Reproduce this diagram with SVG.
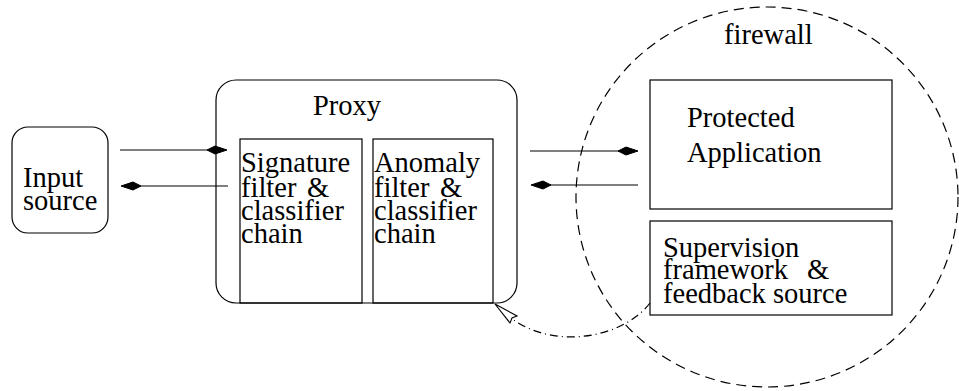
<svg xmlns="http://www.w3.org/2000/svg" width="959" height="391" viewBox="0 0 959 391">
  <style>
    .box { fill: none; stroke: #000; stroke-width: 1.2; }
    .lbl { font-family: 'Liberation Serif', 'DejaVu Serif', serif; font-size: 28.5px; fill: #000; }
    .flow { fill: none; stroke: #000; stroke-width: 1.2; }
    .head { fill: #000; stroke: #000; stroke-width: 1; }
  </style>
  <rect width="959" height="391" fill="#fff"/>

  <!-- firewall boundary -->
  <g id="firewall">
    <ellipse cx="767" cy="197" rx="191" ry="190" fill="none" stroke="#000" stroke-width="1.2" stroke-dasharray="10 6"/>
    <text class="lbl" x="724" y="44">firewall</text>
  </g>

  <g id="input-source">
    <rect class="box" x="12" y="127" width="96" height="106" rx="16" ry="16"/>
    <text class="lbl"><tspan x="23" y="187">Input</tspan><tspan x="23" y="210">source</tspan></text>
  </g>

  <g id="proxy">
    <rect class="box" x="216" y="80" width="301" height="223" rx="20" ry="20"/>
    <text class="lbl" x="313" y="115">Proxy</text>
  </g>

  <g id="signature-chain">
    <rect class="box" x="240" y="139" width="122" height="164"/>
    <text class="lbl"><tspan x="241" y="172">Signature</tspan><tspan x="241" y="197">filter</tspan><tspan x="307" y="197">&amp;</tspan><tspan x="241" y="220">classifier</tspan><tspan x="241" y="243">chain</tspan></text>
  </g>

  <g id="anomaly-chain">
    <rect class="box" x="373" y="139" width="120" height="164"/>
    <text class="lbl"><tspan x="374" y="172">Anomaly</tspan><tspan x="374" y="197">filter</tspan><tspan x="440" y="197">&amp;</tspan><tspan x="374" y="220">classifier</tspan><tspan x="374" y="243">chain</tspan></text>
  </g>

  <g id="protected-application">
    <rect class="box" x="650" y="80" width="242" height="129"/>
    <text class="lbl"><tspan x="687" y="127">Protected</tspan><tspan x="687" y="162">Application</tspan></text>
  </g>

  <g id="supervision">
    <rect class="box" x="650" y="221" width="242" height="94"/>
    <text class="lbl"><tspan x="663" y="257">Supervision</tspan><tspan x="663" y="279">framework</tspan><tspan x="807" y="279">&amp;</tspan><tspan x="663" y="303">feedback source</tspan></text>
  </g>

  <g id="connectors">
    <!-- input source -> proxy -->
    <line class="flow" x1="120" y1="150" x2="215" y2="150"/>
    <polygon class="head" points="227,150 215,146 207,150 215,154"/>
    <!-- proxy -> input source -->
    <line class="flow" x1="132" y1="186" x2="228" y2="186"/>
    <polygon class="head" points="121,186 133,182 141,186 133,190"/>
    <!-- proxy -> protected application -->
    <line class="flow" x1="530" y1="151" x2="626" y2="151"/>
    <polygon class="head" points="638,151 626,147 618,151 626,155"/>
    <!-- protected application -> proxy -->
    <line class="flow" x1="543" y1="185" x2="638" y2="185"/>
    <polygon class="head" points="531,185 543,181 551,185 543,189"/>
    <!-- feedback to proxy -->
    <path class="flow" d="M650,303 C620,342 540,352 500,308" stroke-dasharray="8 4 1 4"/>
    <polygon points="495,304 510,323 512,318 517,316" fill="#fff" stroke="#000" stroke-width="1.1" stroke-linejoin="miter"/>
  </g>
</svg>
